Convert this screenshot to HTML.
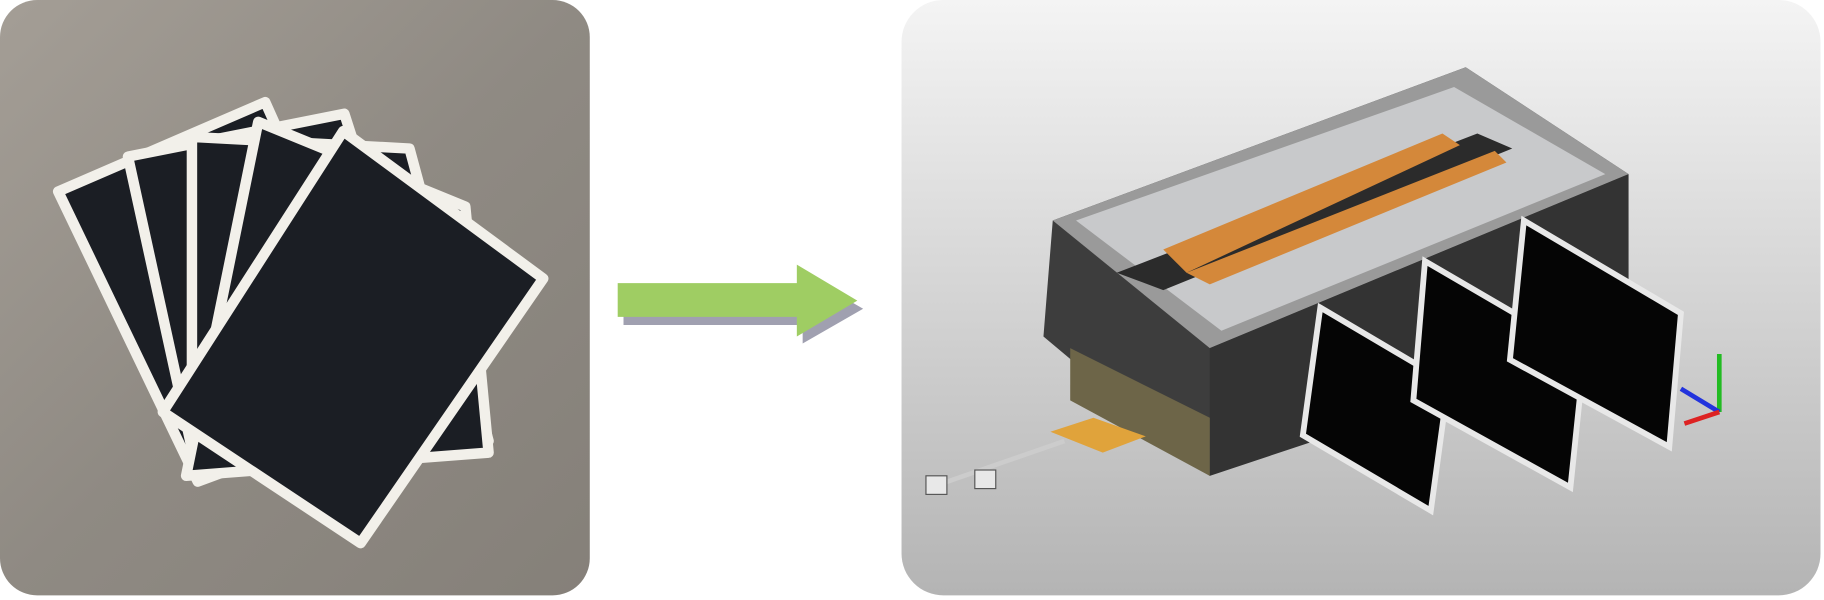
<!DOCTYPE html>
<html><head><meta charset="utf-8"><style>
html,body{margin:0;padding:0;background:#fff;width:1824px;height:600px;overflow:hidden}
svg{display:block}
</style></head><body>
<svg width="1824" height="600" viewBox="0 0 1568 517" preserveAspectRatio="none" xmlns="http://www.w3.org/2000/svg">
<defs>
<linearGradient id="lg" x1="0" y1="0" x2="1" y2="1">
<stop offset="0" stop-color="#a49e96"/><stop offset="0.5" stop-color="#8f8a83"/><stop offset="1" stop-color="#858079"/></linearGradient>
<linearGradient id="rg" x1="0" y1="0" x2="0" y2="1">
<stop offset="0" stop-color="#f4f4f4"/><stop offset="1" stop-color="#b4b4b4"/></linearGradient>
</defs>
<rect x="0" y="0" width="507" height="513" rx="32" fill="url(#lg)"/>
<g stroke="#f2f0ea" stroke-width="9" fill="#1b1e24" stroke-linejoin="round">
<polygon points="50,165 228,88 345,350 170,415"/>
<polygon points="110,135 296,98 380,360 170,410"/>
<polygon points="165,118 352,128 420,380 165,400"/>
<polygon points="222,105 400,178 420,390 160,410"/>
<polygon points="295,113 467,240 310,468 140,355"/>
</g>
<polygon points="536,252 690,252 690,236 742,266 690,296 690,280 536,280" fill="#a0a0b0"/>
<polygon points="531,244 685,244 685,228 737,259 685,290 685,273 531,273" fill="#9fcd63"/>
<rect x="775" y="0" width="790" height="513" rx="36" fill="url(#rg)"/>
<polygon points="905,190 1260,58 1400,150 1090,305 1040,410 897,290" fill="#3d3d3d"/>
<polygon points="905,190 1260,58 1400,150 1040,300" fill="#9a9a9a"/>
<polygon points="925,190 1250,75 1380,150 1050,285" fill="#c8c9cb"/>
<polygon points="960,235 1270,115 1300,128 1000,250" fill="#2b2b2b"/>
<polygon points="1000,215 1240,115 1255,125 1020,235" fill="#d4883a"/>
<polygon points="1020,235 1285,130 1295,140 1040,245" fill="#d4883a"/>
<polygon points="1040,300 1400,150 1400,265 1130,380 1040,410" fill="#333"/>
<polygon points="920,300 1040,360 1040,410 920,345" fill="#6d6548"/>
<g fill="#050505" stroke="#e8e8e8" stroke-width="5">
<polygon points="1135,265 1245,330 1230,440 1120,375"/>
<polygon points="1225,225 1362,305 1350,420 1215,345"/>
<polygon points="1310,190 1445,270 1435,385 1298,310"/>
</g>
<polygon points="903,372 940,360 985,376 948,390" fill="#e0a33b"/>
<line x1="800" y1="420" x2="915" y2="380" stroke="#ccc" stroke-width="4"/>
<rect x="796" y="410" width="18" height="16" fill="#e8e8e8" stroke="#555"/>
<rect x="838" y="405" width="18" height="16" fill="#e8e8e8" stroke="#555"/>
<line x1="1478" y1="355" x2="1478" y2="305" stroke="#2b2" stroke-width="4"/>
<line x1="1478" y1="355" x2="1445" y2="335" stroke="#23d" stroke-width="4"/>
<line x1="1478" y1="355" x2="1448" y2="365" stroke="#d22" stroke-width="4"/>
</svg>
</body></html>
